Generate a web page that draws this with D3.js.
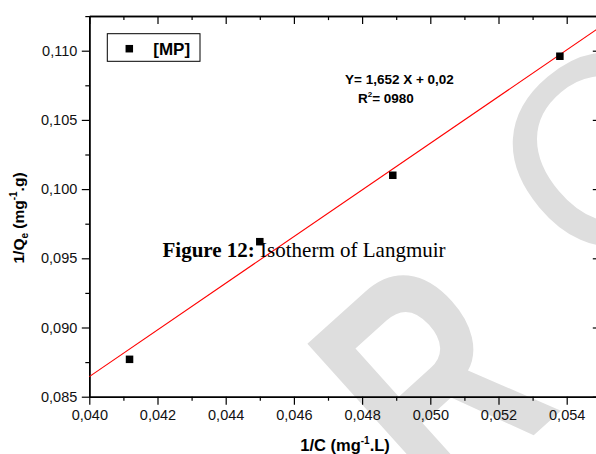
<!DOCTYPE html>
<html>
<head>
<meta charset="utf-8">
<script src="https://cdn.jsdelivr.net/npm/d3@7"></script>
<style>
  body { margin: 0; background: #fff; }
  svg { display: block; }
</style>
</head>
<body>
<div id="holder"></div>
<script>
const w = 596;
const h = 454;

// DATA
const xValues = [0.04118, 0.0450, 0.0489, 0.0538];
const yValues = [0.0877, 0.0962, 0.1010, 0.1096];
const xTicks = [0.040, 0.042, 0.044, 0.046, 0.048, 0.050, 0.052, 0.054];
const xMinor = [0.041, 0.043, 0.045, 0.047, 0.049, 0.051, 0.053, 0.055];
const yTicks = [0.085, 0.090, 0.095, 0.100, 0.105, 0.110];
const yMinor = [0.0875, 0.0925, 0.0975, 0.1025, 0.1075, 0.1125];
const seriesName = "[MP]";
const equationText = "Y= 1,652 X + 0,02";
const r2Text = "= 0980";
const captionBold = "Figure 12:";
const captionText = " Isotherm of Langmuir";

const pLeft = 89.3, pRight = 600.8, pTop = 16.1, pBottom = 396.7;
const sans = "Arial, 'Liberation Sans', sans-serif";
const serif = "'Times New Roman', 'Liberation Serif', serif";

const svg = d3.select("#holder")
    .append("svg")
    .attr("width", w)
    .attr("height", h);

// WATERMARK (behind everything)
const wm = svg.append("g").attr("fill", "#dedede").style("font-family", sans);
wm.append("text")
    .attr("transform", "translate(443,517) rotate(-42) scale(0.78,1.1)")
    .style("font-size", "290px")
    .style("font-weight", "bold")
    .text("R");
wm.append("text")
    .attr("transform", "translate(589,288) rotate(-40)")
    .style("font-size", "270px")
    .text("C");

// SCALES
const xScale = d3.scaleLinear().domain([0.040, 0.055]).range([pLeft, pRight]);
const yScale = d3.scaleLinear().domain([0.085, 0.1125]).range([pBottom, pTop]);

const fmt = d => d3.format(".3f")(d).replace(".", ",");

function styleAxis(g) {
    g.select(".domain").attr("stroke-width", 1.5);
    g.selectAll(".tick line").attr("stroke-width", 1.2);
    g.selectAll("text")
        .style("font-family", sans)
        .style("font-size", "14.5px")
        .attr("fill", "#111");
}

// X AXES
svg.append("g")
    .attr("transform", `translate(0,${pBottom})`)
    .call(d3.axisBottom(xScale).tickValues(xTicks).tickFormat(fmt)
        .tickSize(8).tickSizeOuter(0).tickPadding(5))
    .call(styleAxis);
svg.append("g")
    .attr("transform", `translate(0,${pBottom})`)
    .call(d3.axisBottom(xScale).tickValues(xMinor).tickFormat("")
        .tickSize(4).tickSizeOuter(0))
    .call(styleAxis);
svg.append("g")
    .attr("transform", `translate(0,${pTop})`)
    .call(d3.axisTop(xScale).tickValues(xTicks).tickFormat("")
        .tickSize(-8).tickSizeOuter(0))
    .call(styleAxis);
svg.append("g")
    .attr("transform", `translate(0,${pTop})`)
    .call(d3.axisTop(xScale).tickValues(xMinor).tickFormat("")
        .tickSize(-4).tickSizeOuter(0))
    .call(styleAxis);

// Y AXES
svg.append("g")
    .attr("transform", `translate(${pLeft},0)`)
    .call(d3.axisLeft(yScale).tickValues(yTicks).tickFormat(fmt)
        .tickSize(7.5).tickSizeOuter(0).tickPadding(4.5))
    .call(styleAxis);
svg.append("g")
    .attr("transform", `translate(${pLeft},0)`)
    .call(d3.axisLeft(yScale).tickValues(yMinor).tickFormat("")
        .tickSize(4).tickSizeOuter(0))
    .call(styleAxis);
svg.append("g")
    .attr("transform", `translate(${pRight},0)`)
    .call(d3.axisRight(yScale).tickValues(yTicks).tickFormat("")
        .tickSize(-8).tickSizeOuter(0))
    .call(styleAxis);
svg.append("g")
    .attr("transform", `translate(${pRight},0)`)
    .call(d3.axisRight(yScale).tickValues(yMinor).tickFormat("")
        .tickSize(-4).tickSizeOuter(0))
    .call(styleAxis);

// LINEAR FIT (least squares over the points)
const mx = d3.mean(xValues), my = d3.mean(yValues);
const slope = d3.sum(xValues, (x, i) => (x - mx) * (yValues[i] - my)) /
    d3.sum(xValues, x => (x - mx) * (x - mx));
const intercept = my - slope * mx;
const fitX = xScale.domain();

svg.append("line")
    .attr("x1", xScale(fitX[0]))
    .attr("y1", yScale(intercept + slope * fitX[0]))
    .attr("x2", xScale(fitX[1]))
    .attr("y2", yScale(intercept + slope * fitX[1]))
    .attr("stroke", "#ff0000")
    .attr("stroke-width", 1.1);

// CAPTION (inside plot, as in the source)
const cap = svg.append("text")
    .attr("x", 162.5)
    .attr("y", 257)
    .style("font-family", serif)
    .style("font-size", "21px")
    .attr("fill", "#000");
cap.append("tspan").style("font-weight", "bold").text(captionBold);
cap.append("tspan").text(captionText);

// POINTS
const sq = 7.5;
svg.selectAll("rect.pt")
    .data(xValues)
    .enter()
    .append("rect")
    .attr("class", "pt")
    .attr("x", (d) => xScale(d) - sq / 2)
    .attr("y", (d, i) => yScale(yValues[i]) - sq / 2)
    .attr("width", sq)
    .attr("height", sq)
    .attr("fill", "#000");

// LEGEND
svg.append("rect")
    .attr("x", 107.3).attr("y", 33.7)
    .attr("width", 92.7).attr("height", 27.6)
    .attr("fill", "#fff")
    .attr("stroke", "#000")
    .attr("stroke-width", 1);
svg.append("rect")
    .attr("x", 129.3 - sq / 2).attr("y", 48.7 - sq / 2)
    .attr("width", sq).attr("height", sq)
    .attr("fill", "#000");
svg.append("text")
    .attr("x", 153.3).attr("y", 55.3)
    .style("font-family", sans).style("font-size", "17px").style("font-weight", "bold")
    .text(seriesName);

// EQUATION
svg.append("text")
    .attr("x", 345).attr("y", 84)
    .style("font-family", sans).style("font-size", "13.5px").style("font-weight", "bold")
    .text(equationText);
const r2 = svg.append("text")
    .attr("x", 358).attr("y", 103)
    .style("font-family", sans).style("font-size", "13.5px").style("font-weight", "bold");
r2.append("tspan").text("R");
r2.append("tspan").attr("dy", -6).style("font-size", "8px").text("2");
r2.append("tspan").attr("dy", 6).text(r2Text);

// AXIS TITLES
const xt = svg.append("text")
    .attr("x", (pLeft + pRight) / 2).attr("y", 450.5)
    .attr("text-anchor", "middle")
    .style("font-family", sans).style("font-size", "16.5px").style("font-weight", "bold");
xt.append("tspan").text("1/C (mg");
xt.append("tspan").attr("dy", -7).style("font-size", "10px").text("-1");
xt.append("tspan").attr("dy", 7).text(".L)");

const yt = svg.append("text")
    .attr("transform", "translate(23.5,218) rotate(-90)")
    .attr("text-anchor", "middle")
    .style("font-family", sans).style("font-size", "15.5px").style("font-weight", "bold");
yt.append("tspan").text("1/Q");
yt.append("tspan").attr("dy", 4).style("font-size", "10px").text("e");
yt.append("tspan").attr("dy", -4).text(" (mg");
yt.append("tspan").attr("dy", -6.5).style("font-size", "10px").text("-1");
yt.append("tspan").attr("dy", 6.5).text(".g)");
</script>
</body>
</html>
